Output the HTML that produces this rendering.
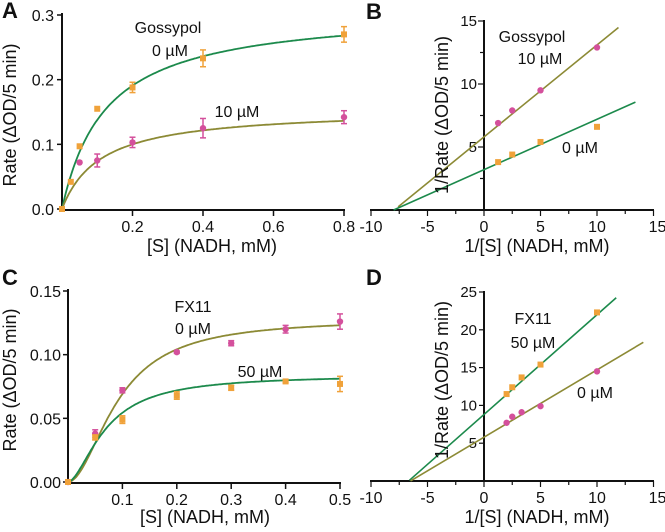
<!DOCTYPE html>
<html><head><meta charset="utf-8"><style>
body{margin:0;background:#fff}
svg{display:block;font-family:"Liberation Sans",sans-serif}
</style></head><body>
<svg id="c" width="665" height="532" viewBox="0 0 665 532"></svg>
<script>
// Panel A data
const aX=[0,0.025,0.05,0.1,0.2,0.4,0.8];
const a0=[0,0.042,0.097,0.155,0.188,0.233,0.270];
const a0e=[0,0,0,0,0.008,0.013,0.012];
const a10X=[0.05,0.1,0.2,0.4,0.8];
const a10=[0.072,0.075,0.103,0.125,0.142];
const a10e=[0,0.01,0.008,0.015,0.01];
const aFit0=[0.31,0.125], aFit10=[0.155,0.11];
// Panel B data
const bX=[1.25,2.5,5,10];
const b10=[6.9,7.9,9.5,12.9];
const b0=[3.8,4.4,5.4,6.6];
const bLine10=[5.8,0.73,-7.6,11.9], bLine0=[3.2,0.40,-8,13.4];
// Panel C data
const cX=[0,0.05,0.1,0.2,0.3,0.4,0.5];
const c0=[0,0.038,0.072,0.102,0.109,0.120,0.126];
const c0e=[0,0.003,0.002,0.001,0.002,0.003,0.006];
const c50=[0,0.035,0.049,0.068,0.074,0.079,0.077];
const c50e=[0,0.002,0.003,0.003,0.002,0.001,0.006];
const cFit0=[0.128,0.092,1.9], cFit50=[0.084,0.07,1.7];
// Panel D data
const dX=[2,2.5,3.33,5,10];
const d50=[11.5,12.4,13.7,15.4,22.3];
const d0=[7.7,8.5,9.1,9.9,14.5];
const dLine50=[8.8,1.32,-6.6,11.7], dLine0=[5.8,0.89,-6.5,14.1];

const GREEN='#1c8a4c',OLIVE='#8c8a35',ORANGE='#f0a23a',PINK='#d4509c';
const svg=document.getElementById('c');
const NS='http://www.w3.org/2000/svg';
function mk(tag,attrs,name,text){const e=document.createElementNS(NS,tag);for(const k in attrs)e.setAttribute(k,attrs[k]);


if(text!==undefined)e.textContent=text;svg.appendChild(e);return e;}
function lin(d0,d1,r0,r1){return v=>r0+(v-d0)/(d1-d0)*(r1-r0);}
function txt(x,y,s,name,opt){opt=opt||{};return mk('text',{x:x,y:y,'font-size':opt.fs||16,'text-anchor':opt.a||'middle','font-weight':opt.w||'normal',fill:'#111',transform:opt.t||''},name,s);}
function curve(f,x,y,x0,x1,col,name){let d='';for(let i=0;i<=200;i++){const v=x0+(x1-x0)*i/200;d+=(i?'L':'M')+x(v).toFixed(1)+','+y(f(v)).toFixed(1);}mk('path',{d:d,fill:'none',stroke:col,'stroke-width':1.8},name);}
function pts(xs,ys,es,x,y,col,shape,name){xs.forEach((v,i)=>{const px=x(v),py=y(ys[i]);
if(es&&es[i]){mk('line',{x1:px,x2:px,y1:y(ys[i]-es[i]),y2:y(ys[i]+es[i]),stroke:col,'stroke-width':1.5},name+'-error');
[ys[i]-es[i],ys[i]+es[i]].forEach(e=>mk('line',{x1:px-3,x2:px+3,y1:y(e),y2:y(e),stroke:col,'stroke-width':1.5},name+'-error-cap'));}
if(shape==='s')mk('rect',{x:px-3,y:py-3,width:6,height:6,fill:col},name);else mk('circle',{cx:px,cy:py,r:3.2,fill:col},name);});}

// ---- Panel A
(function(){const x=lin(0,0.8,62,344),y=lin(0,0.3,209,15);
mk('line',{x1:62,x2:62,y1:13,y2:211,stroke:'#111','stroke-width':2},'a-y-axis');
mk('line',{x1:61,x2:345,y1:210,y2:210,stroke:'#111','stroke-width':2},'a-x-axis');
[0,0.1,0.2,0.3].forEach(v=>{mk('line',{x1:57,x2:62,y1:y(v),y2:y(v),stroke:'#111','stroke-width':1.5},'a-y-tick');txt(54,y(v)+6,v.toFixed(1),'a-y-tick-label',{a:'end'});});
[0.2,0.4,0.6,0.8].forEach(v=>{mk('line',{x1:x(v),x2:x(v),y1:210,y2:216,stroke:'#111','stroke-width':1.5},'a-x-tick');txt(x(v),232,v.toFixed(1),'a-x-tick-label');});
curve(v=>aFit0[0]*v/(aFit0[1]+v),x,y,0,0.8,GREEN,'a-fit-0um');
curve(v=>aFit10[0]*v/(aFit10[1]+v),x,y,0,0.8,OLIVE,'a-fit-10um');
pts(aX,a0,a0e,x,y,ORANGE,'s','a-point-0um');
pts(a10X,a10,a10e,x,y,PINK,'c','a-point-10um');
txt(2,18,'A','panel-a-label',{a:'start',fs:22,w:'bold'});
txt(168,33,'Gossypol','a-gossypol-label');txt(170,56,'0 µM','a-0um-label');txt(237,117,'10 µM','a-10um-label');
txt(16,115,'Rate (ΔOD/5 min)','a-y-axis-title',{fs:18,t:'rotate(-90 16 115)'});
txt(212,252,'[S] (NADH, mM)','a-x-axis-title',{fs:18});})();

// ---- Panel B
(function(){const x=lin(0,5,484,540.5),y=lin(0,5,210,147);
mk('line',{x1:484,x2:484,y1:20,y2:211,stroke:'#111','stroke-width':2},'b-y-axis');
mk('line',{x1:370,x2:654,y1:210,y2:210,stroke:'#111','stroke-width':2},'b-x-axis');
[2.5,5,7.5,10,12.5,15].forEach(v=>{const M=v%5===0;mk('line',{x1:M?478:480,x2:484,y1:y(v),y2:y(v),stroke:'#111','stroke-width':1.2},'b-y-tick');if(M)txt(477,y(v)+5,String(v),'b-y-tick-label',{a:'end',fs:15});});
[-10,-7.5,-5,-2.5,0,2.5,5,7.5,10,12.5,15].forEach(v=>{const M=v%5===0;mk('line',{x1:x(v),x2:x(v),y1:210,y2:M?216:214,stroke:'#111','stroke-width':1.2},'b-x-tick');if(M)txt(x(v)+(v===15?4:0),232,String(v),'b-x-tick-label');});
[[bLine10,OLIVE,'b-fit-10um'],[bLine0,GREEN,'b-fit-0um']].forEach(([L,c,n])=>mk('line',{x1:x(L[2]),y1:y(L[0]+L[1]*L[2]),x2:x(L[3]),y2:y(L[0]+L[1]*L[3]),stroke:c,'stroke-width':1.6},n));
pts(bX,b10,null,x,y,PINK,'c','b-point-10um');
pts(bX,b0,null,x,y,ORANGE,'s','b-point-0um');
txt(366,19,'B','panel-b-label',{a:'start',fs:22,w:'bold'});
txt(532,42,'Gossypol','b-gossypol-label');txt(540,64,'10 µM','b-10um-label');txt(580,153,'0 µM','b-0um-label');
txt(448,115,'1/Rate (ΔOD/5 min)','b-y-axis-title',{fs:18,t:'rotate(-90 448 115)'});
txt(537,252,'1/[S] (NADH, mM)','b-x-axis-title',{fs:18});})();

// ---- Panel C
(function(){const x=lin(0,0.5,68,340),y=lin(0,0.15,482,291);
mk('line',{x1:68,x2:68,y1:289,y2:484,stroke:'#111','stroke-width':2},'c-y-axis');
mk('line',{x1:67,x2:341,y1:483,y2:483,stroke:'#111','stroke-width':2},'c-x-axis');
[0,0.05,0.1,0.15].forEach(v=>{mk('line',{x1:63,x2:68,y1:y(v),y2:y(v),stroke:'#111','stroke-width':1.5},'c-y-tick');txt(61,y(v)+6,v.toFixed(2),'c-y-tick-label',{a:'end'});});
[0.1,0.2,0.3,0.4,0.5].forEach(v=>{mk('line',{x1:x(v),x2:x(v),y1:483,y2:489,stroke:'#111','stroke-width':1.5},'c-x-tick');txt(x(v),505,v.toFixed(1),'c-x-tick-label');});
const hill=p=>v=>p[0]*Math.pow(v,p[2])/(Math.pow(p[1],p[2])+Math.pow(v,p[2]));
curve(hill(cFit0),x,y,0,0.5,OLIVE,'c-fit-0um');
curve(hill(cFit50),x,y,0,0.5,GREEN,'c-fit-50um');
pts(cX,c0,c0e,x,y,PINK,'c','c-point-0um');
pts(cX,c50,c50e,x,y,ORANGE,'s','c-point-50um');
txt(2,285,'C','panel-c-label',{a:'start',fs:22,w:'bold'});
txt(193,312,'FX11','c-fx11-label');txt(193,334,'0 µM','c-0um-label');txt(260,377,'50 µM','c-50um-label');
txt(16,380,'Rate (ΔOD/5 min)','c-y-axis-title',{fs:18,t:'rotate(-90 16 380)'});
txt(205,523,'[S] (NADH, mM)','c-x-axis-title',{fs:18});})();

// ---- Panel D
(function(){const x=lin(0,5,484,540.5),y=lin(0,5,481,443.2);
mk('line',{x1:484,x2:484,y1:291,y2:482,stroke:'#111','stroke-width':2},'d-y-axis');
mk('line',{x1:370,x2:654,y1:481,y2:481,stroke:'#111','stroke-width':2},'d-x-axis');
[5,10,15,20,25].forEach(v=>{mk('line',{x1:479,x2:484,y1:y(v),y2:y(v),stroke:'#111','stroke-width':1.2},'d-y-tick');txt(477,y(v)+5,String(v),'d-y-tick-label',{a:'end',fs:15});});
[-10,-7.5,-5,-2.5,0,2.5,5,7.5,10,12.5,15].forEach(v=>{const M=v%5===0;mk('line',{x1:x(v),x2:x(v),y1:481,y2:M?487:485,stroke:'#111','stroke-width':1.2},'d-x-tick');if(M)txt(x(v)+(v===15?4:0),503,String(v),'d-x-tick-label');});
[[dLine50,GREEN,'d-fit-50um'],[dLine0,OLIVE,'d-fit-0um']].forEach(([L,c,n])=>mk('line',{x1:x(L[2]),y1:y(L[0]+L[1]*L[2]),x2:x(L[3]),y2:y(L[0]+L[1]*L[3]),stroke:c,'stroke-width':1.6},n));
pts(dX,d50,null,x,y,ORANGE,'s','d-point-50um');
pts(dX,d0,null,x,y,PINK,'c','d-point-0um');
txt(366,285,'D','panel-d-label',{a:'start',fs:22,w:'bold'});
txt(533,324,'FX11','d-fx11-label');txt(533,348,'50 µM','d-50um-label');txt(595,398,'0 µM','d-0um-label');
txt(448,380,'1/Rate (ΔOD/5 min)','d-y-axis-title',{fs:18,t:'rotate(-90 448 380)'});
txt(537,523,'1/[S] (NADH, mM)','d-x-axis-title',{fs:18});})();
</script>
</body></html>
